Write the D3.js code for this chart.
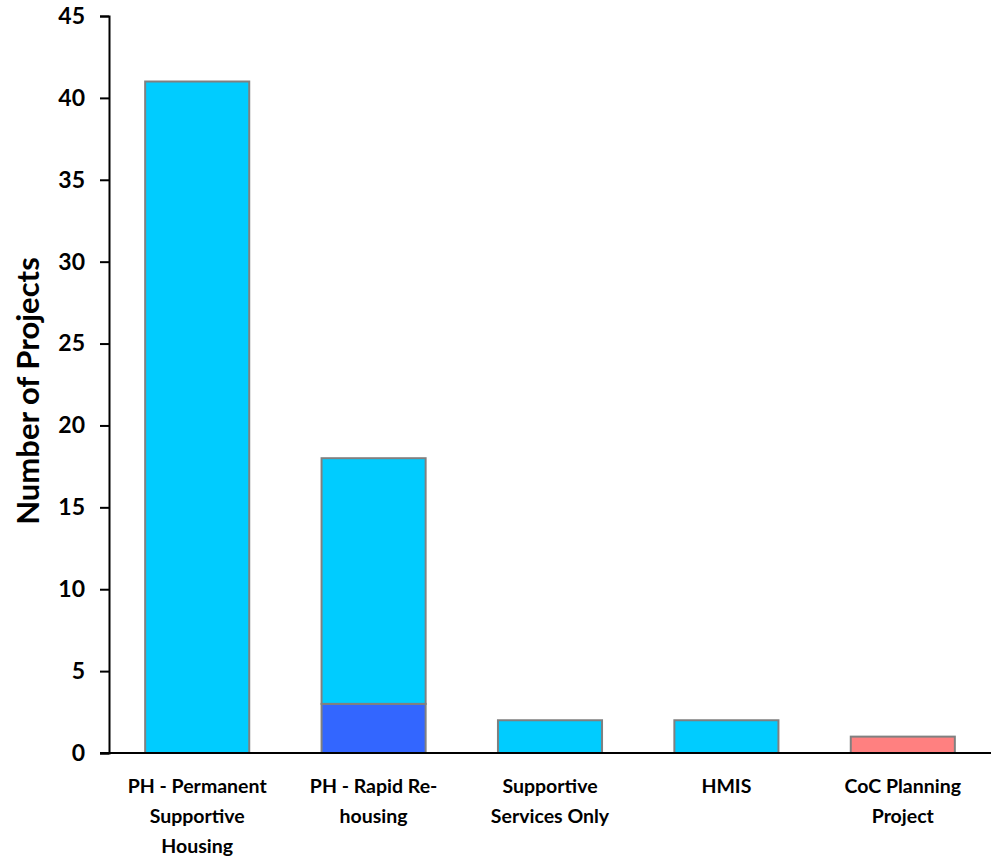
<!DOCTYPE html>
<html>
<head>
<meta charset="utf-8">
<script src="https://cdn.jsdelivr.net/npm/d3@7"></script>
<style>
  html, body { margin: 0; padding: 0; background: #fff; }
  svg { display: block; font-family: Lato, "Open Sans", sans-serif; }
</style>
</head>
<body>
<svg id="chart" width="997" height="860"></svg>
<script>
const categories = [
  ["PH - Permanent", "Supportive", "Housing"],
  ["PH - Rapid Re-", "housing"],
  ["Supportive", "Services Only"],
  ["HMIS"],
  ["CoC Planning", "Project"]
];
const categoryKeys = ["PSH", "RRH", "SSO", "HMIS", "PLAN"];
const lowerValues = [0, 3, 0, 0, 0];
const upperValues = [41, 15, 2, 2, 0];
const planningValues = [0, 0, 0, 0, 1];
const yTicks = [0, 5, 10, 15, 20, 25, 30, 35, 40, 45];
const yTitle = "Number of Projects";

const colors = { lower: "#3366FF", upper: "#00CCFF", planning: "#FF8080" };

const svg = d3.select("#chart");
const plotLeft = 109, plotRight = 991, plotTop = 16, plotBottom = 753;

const x = d3.scaleBand().domain(categoryKeys).range([plotLeft, plotRight]).paddingInner(0.41).paddingOuter(0.205);
const y = d3.scaleLinear().domain([0, 45]).range([plotBottom, plotTop]);

const rows = categoryKeys.map((k, i) => ({
  key: k,
  segs: [
    { name: "lower", y0: 0, y1: lowerValues[i] },
    { name: "upper", y0: lowerValues[i], y1: lowerValues[i] + upperValues[i] },
    { name: "planning", y0: lowerValues[i] + upperValues[i], y1: lowerValues[i] + upperValues[i] + planningValues[i] }
  ].filter(s => s.y1 > s.y0)
}));

const g = svg.append("g");
rows.forEach(r => {
  g.selectAll(null).data(r.segs).enter().append("rect")
    .attr("x", x(r.key))
    .attr("width", x.bandwidth())
    .attr("y", d => y(d.y1))
    .attr("height", d => y(d.y0) - y(d.y1))
    .attr("fill", d => colors[d.name])
    .attr("stroke", "#808080")
    .attr("stroke-width", 2);
});

// Y axis
const yAxis = svg.append("g").attr("transform", `translate(${plotLeft},0)`)
  .call(d3.axisLeft(y).tickValues(yTicks).tickSize(9).tickPadding(15));
yAxis.select(".domain").attr("stroke", "#000").attr("stroke-width", 2);
yAxis.selectAll(".tick line").attr("stroke", "#000").attr("stroke-width", 2);
yAxis.selectAll(".tick text")
  .attr("font-size", 23).attr("font-weight", "bold").attr("fill", "#000")
  .attr("font-family", "Lato, sans-serif");

// X axis line
svg.append("line").attr("x1", plotLeft - 9).attr("x2", plotRight)
  .attr("y1", y(0)).attr("y2", y(0)).attr("stroke", "#000").attr("stroke-width", 2);

// X labels
categoryKeys.forEach((k, i) => {
  const t = svg.append("text")
    .attr("x", x(k) + x.bandwidth() / 2)
    .attr("y", 793)
    .attr("text-anchor", "middle")
    .attr("font-size", 19.5).attr("font-weight", "bold").attr("fill", "#000");
  categories[i].forEach((line, j) => {
    t.append("tspan").attr("x", x(k) + x.bandwidth() / 2).attr("dy", j === 0 ? 0 : 30).text(line);
  });
});

// Y title
svg.append("text")
  .attr("transform", "translate(39,391) rotate(-90)")
  .attr("text-anchor", "middle")
  .attr("font-size", 31).attr("font-weight", "bold").attr("fill", "#000")
  .text(yTitle);
</script>
</body>
</html>
